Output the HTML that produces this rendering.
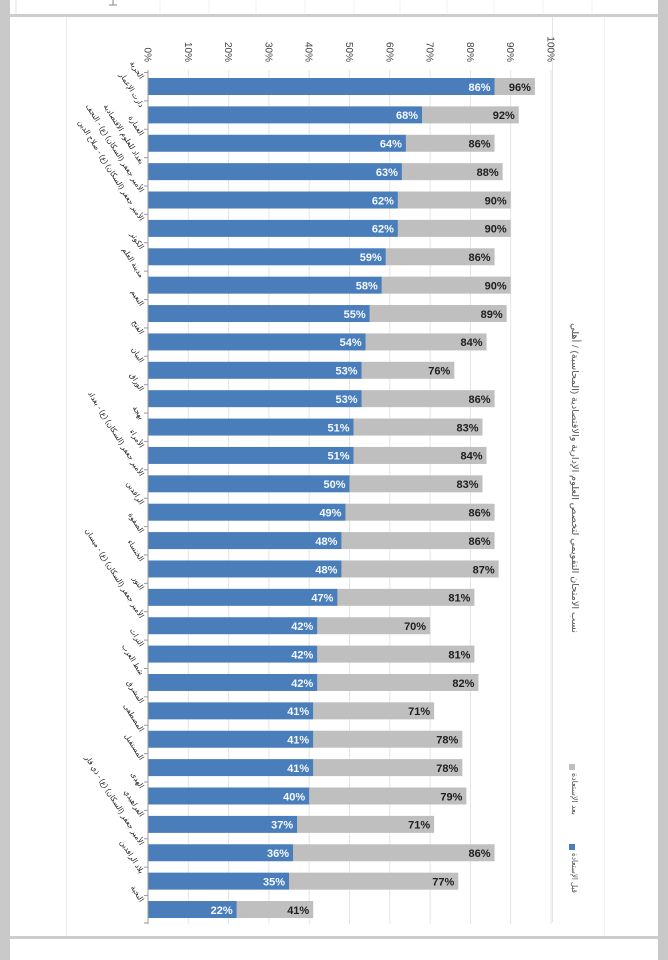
<!DOCTYPE html>
<html><head><meta charset="utf-8"><style>
html,body{margin:0;padding:0;background:#fff;}
svg{display:block;}
</style></head><body>
<svg width="668" height="960" viewBox="0 0 668 960" xmlns="http://www.w3.org/2000/svg">
<rect x="0" y="0" width="668" height="960" fill="#ffffff"/>
<!-- frame / photo background -->
<rect x="0" y="0" width="10" height="960" fill="#c9c9c9"/>
<rect x="658" y="0" width="10" height="960" fill="#c9c9c9"/>
<rect x="10" y="14" width="648" height="3" fill="#cdcdcd"/>
<rect x="10" y="936" width="648" height="3" fill="#cdcdcd"/>
<line x1="16" y1="0" x2="16" y2="14" stroke="#e0e0e0" stroke-width="1"/>
<g stroke="#f0f0f0" stroke-width="1">
<line x1="160" y1="0" x2="160" y2="14"/><line x1="209" y1="0" x2="209" y2="14"/><line x1="256" y1="0" x2="256" y2="14"/><line x1="305" y1="0" x2="305" y2="14"/><line x1="354" y1="0" x2="354" y2="14"/><line x1="400" y1="0" x2="400" y2="14"/><line x1="447" y1="0" x2="447" y2="14"/><line x1="494" y1="0" x2="494" y2="14"/><line x1="543" y1="0" x2="543" y2="14"/><line x1="592" y1="0" x2="592" y2="14"/>
</g>
<line x1="113" y1="0" x2="113" y2="5" stroke="#888" stroke-width="1"/>
<line x1="109" y1="5" x2="117" y2="5" stroke="#888" stroke-width="1"/>
<!-- chart area faint borders -->
<line x1="66.5" y1="17" x2="66.5" y2="936" stroke="#ececec" stroke-width="1"/>
<line x1="552.5" y1="17" x2="552.5" y2="922" stroke="#e6e6e6" stroke-width="1"/>
<line x1="604.5" y1="17" x2="604.5" y2="936" stroke="#f0f0f0" stroke-width="1"/>

<!-- gridlines -->
<g stroke="#e4e4e4" stroke-width="1">
<line x1="188.3" y1="70" x2="188.3" y2="924"/>
<line x1="228.6" y1="70" x2="228.6" y2="924"/>
<line x1="268.9" y1="70" x2="268.9" y2="924"/>
<line x1="309.2" y1="70" x2="309.2" y2="924"/>
<line x1="349.5" y1="70" x2="349.5" y2="924"/>
<line x1="389.8" y1="70" x2="389.8" y2="924"/>
<line x1="430.1" y1="70" x2="430.1" y2="924"/>
<line x1="470.4" y1="70" x2="470.4" y2="924"/>
<line x1="510.7" y1="70" x2="510.7" y2="924"/>
<line x1="551" y1="70" x2="551" y2="924"/>
</g>

<!-- tick labels -->
<g font-family="Liberation Sans, DejaVu Sans, sans-serif" font-size="10" fill="#444" text-anchor="end">
<text transform="translate(144.5,62) rotate(90)">0%</text>
<text transform="translate(184.8,62) rotate(90)">10%</text>
<text transform="translate(225.1,62) rotate(90)">20%</text>
<text transform="translate(265.4,62) rotate(90)">30%</text>
<text transform="translate(305.7,62) rotate(90)">40%</text>
<text transform="translate(346,62) rotate(90)">50%</text>
<text transform="translate(386.3,62) rotate(90)">60%</text>
<text transform="translate(426.6,62) rotate(90)">70%</text>
<text transform="translate(466.9,62) rotate(90)">80%</text>
<text transform="translate(507.2,62) rotate(90)">90%</text>
<text transform="translate(547.5,62) rotate(90)">100%</text>
</g>

<!-- bars -->
<g id="bars"></g>

<!-- axis -->
<line x1="148" y1="70" x2="148" y2="924" stroke="#9a9a9a" stroke-width="1"/>
<g id="ticks" stroke="#9a9a9a" stroke-width="1"></g>
<g id="cats" font-family="Liberation Sans, DejaVu Sans, sans-serif" font-size="7.5" fill="#222" text-anchor="end"></g>

<!-- title -->
<text transform="translate(572,478) rotate(90)" font-family="Liberation Sans, DejaVu Sans, sans-serif" font-size="9.5" fill="#555" text-anchor="middle" textLength="310" lengthAdjust="spacingAndGlyphs">نسب الامتحان التقويمي لتخصص العلوم الإدارية والاقتصادية (المحاسبة) / أهلي</text>

<!-- legend -->
<rect x="569" y="764" width="6" height="6" fill="#bfbfbf"/>
<text transform="translate(572,773) rotate(90)" font-family="Liberation Sans, DejaVu Sans, sans-serif" font-size="8" fill="#555" textLength="42" lengthAdjust="spacingAndGlyphs">بعد الإستعادة</text>
<rect x="569" y="844" width="6" height="6" fill="#4a7ebb"/>
<text transform="translate(572,853) rotate(90)" font-family="Liberation Sans, DejaVu Sans, sans-serif" font-size="8" fill="#555" textLength="40" lengthAdjust="spacingAndGlyphs">قبل الإستعادة</text>
</svg>
<script>
(function(){
var NS="http://www.w3.org/2000/svg";
var data=[[86,96],[68,92],[64,86],[63,88],[62,90],[62,90],[59,86],[58,90],[55,89],[54,84],[53,76],[53,86],[51,83],[51,84],[50,83],[49,86],[48,86],[48,87],[47,81],[42,70],[42,81],[42,82],[41,71],[41,78],[41,78],[40,79],[37,71],[36,86],[35,77],[22,41]];
var cats=["الحرية","دارت الإعمار","العمارة","بغداد للعلوم الاقتصادية","الأمير جعفر (السكان) (ع) - النجف","الأمير جعفر (السكان) (ع) - صلاح الدين","الكوثر","مدينة العلم","النعيم","الفتح","البيان","الوراق","بهجة","الأمراء","الأمير جعفر (السكان) (ع) - بغداد","الرافدين","الصفوة","الخنساء","النور","الأمير جعفر (السكان) (ع) - ميسان","التراث","شط العرب","المشرق","المصطفى","المستقبل","الهدى","الفراهيدي","الأمير جعفر (السكان) (ع) - ذي قار","بلاد الرافدين","النخبة"];
var bars=document.getElementById("bars"),ticks=document.getElementById("ticks"),cg=document.getElementById("cats");
function el(t,a,p,txt){var e=document.createElementNS(NS,t);for(var k in a)e.setAttribute(k,a[k]);if(txt!=null)e.textContent=txt;p.appendChild(e);return e;}
var x0=148,s=4.03,sp=28.38;
for(var i=0;i<data.length;i++){
 var top=78+i*sp,b=data[i][0],g=data[i][1];
 var xb=x0+b*s,xg=x0+g*s;
 el("rect",{x:xb,y:top,width:xg-xb,height:17,fill:"#bfbfbf"},bars);
 el("rect",{x:x0,y:top,width:xb-x0,height:17,fill:"#4a7ebb"},bars);
 el("text",{x:xb-4,y:top+12.8,"font-family":"Liberation Sans, sans-serif","font-size":"11","font-weight":"bold",fill:"#f4f8ff","text-anchor":"end"},bars,b+"%");
 el("text",{x:xg-4,y:top+12.8,"font-family":"Liberation Sans, sans-serif","font-size":"11","font-weight":"bold",fill:"#1e1e1e","text-anchor":"end"},bars,g+"%");
 el("line",{x1:144,y1:top-5.5,x2:148,y2:top-5.5},ticks);
 var cy=top+8.5-7;
 el("text",{transform:"translate(140,"+cy+") rotate(58)"},cg,cats[i]);
}
el("line",{x1:144,y1:923,x2:148,y2:923},ticks);
})();
</script>
</body></html>
